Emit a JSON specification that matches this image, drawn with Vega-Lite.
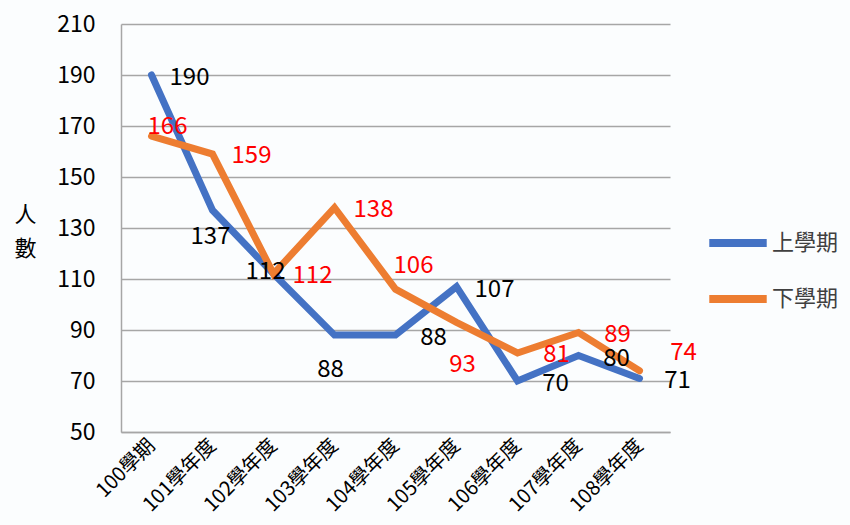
{
  "$schema": "https://vega.github.io/schema/vega-lite/v6.json",
  "width": 549,
  "height": 408,
  "autosize": "none",
  "padding": {"left": 121, "top": 24, "right": 180, "bottom": 93},
  "background": "#fbfdfe",
  "config": {
    "font": "Noto Sans CJK TC",
    "view": {"stroke": null}
  },
  "data": {
    "values": [
      {"term": "100學期", "sem": "上學期", "value": 190},
      {"term": "101學年度", "sem": "上學期", "value": 137},
      {"term": "102學年度", "sem": "上學期", "value": 112},
      {"term": "103學年度", "sem": "上學期", "value": 88},
      {"term": "104學年度", "sem": "上學期", "value": 88},
      {"term": "105學年度", "sem": "上學期", "value": 107},
      {"term": "106學年度", "sem": "上學期", "value": 70},
      {"term": "107學年度", "sem": "上學期", "value": 80},
      {"term": "108學年度", "sem": "上學期", "value": 71},
      {"term": "100學期", "sem": "下學期", "value": 166},
      {"term": "101學年度", "sem": "下學期", "value": 159},
      {"term": "102學年度", "sem": "下學期", "value": 112},
      {"term": "103學年度", "sem": "下學期", "value": 138},
      {"term": "104學年度", "sem": "下學期", "value": 106},
      {"term": "105學年度", "sem": "下學期", "value": 93},
      {"term": "106學年度", "sem": "下學期", "value": 81},
      {"term": "107學年度", "sem": "下學期", "value": 89},
      {"term": "108學年度", "sem": "下學期", "value": 74}
    ]
  },
  "encoding": {
    "x": {
      "field": "term",
      "type": "ordinal",
      "sort": null,
      "scale": {"type": "point", "padding": 0.5},
      "axis": {
        "title": null,
        "labelAngle": -45,
        "labelAlign": "right",
        "labelBaseline": "middle",
        "labelFontSize": 20,
        "labelColor": "#000000",
        "labelPadding": 10,
        "ticks": false,
        "domainColor": "#a6a6a6",
        "domainWidth": 1.5,
        "grid": false
      }
    },
    "y": {
      "field": "value",
      "type": "quantitative",
      "scale": {"domain": [50, 210], "nice": false, "zero": false},
      "axis": {
        "values": [50, 70, 90, 110, 130, 150, 170, 190, 210],
        "title": ["人", "數"],
        "titleAngle": 0,
        "titleFontSize": 22,
        "titleFontWeight": "normal",
        "titleColor": "#000000",
        "titleAlign": "center",
        "titleBaseline": "middle",
        "titleX": -96,
        "titleY": 190,
        "titleLineHeight": 34,
        "labelFontSize": 23,
        "labelColor": "#000000",
        "labelPadding": 26,
        "ticks": false,
        "domainColor": "#a6a6a6",
        "domainWidth": 1.5,
        "gridColor": "#a6a6a6",
        "gridWidth": 1.3
      }
    }
  },
  "layer": [
    {
      "mark": {"type": "line", "strokeWidth": 7, "strokeCap": "round", "strokeJoin": "miter"},
      "encoding": {
        "color": {
          "field": "sem",
          "type": "nominal",
          "scale": {"domain": ["上學期", "下學期"], "range": ["#4472C4", "#ED7D31"]},
          "legend": {
            "title": null,
            "orient": "none",
            "legendX": 584,
            "legendY": 186,
            "symbolType": "stroke",
            "symbolSize": 3300,
            "symbolStrokeWidth": 8,
            "labelFontSize": 22,
            "labelColor": "#404040",
            "labelOffset": 1,
            "rowPadding": 7,
            "labelFont": "Noto Sans CJK TC"
          }
        }
      }
    },
    {
      "transform": [{"filter": "datum.sem == '上學期' && indexof(['100學期','104學年度','105學年度','106學年度','107學年度','108學年度'], datum.term) >= 0"}],
      "mark": {"type": "text", "fontSize": 24, "fill": "#000000", "dx": 38, "dy": 3, "align": "center", "baseline": "middle"},
      "encoding": {"text": {"field": "value"}}
    },
    {
      "transform": [{"filter": "datum.sem == '上學期' && datum.term == '101學年度'"}],
      "mark": {"type": "text", "fontSize": 24, "fill": "#000000", "dx": -2, "dy": 27, "align": "center", "baseline": "middle"},
      "encoding": {"text": {"field": "value"}}
    },
    {
      "transform": [{"filter": "datum.sem == '上學期' && datum.term == '102學年度'"}],
      "mark": {"type": "text", "fontSize": 24, "fill": "#000000", "dx": -8, "dy": -2, "align": "center", "baseline": "middle"},
      "encoding": {"text": {"field": "value"}}
    },
    {
      "transform": [{"filter": "datum.sem == '上學期' && datum.term == '103學年度'"}],
      "mark": {"type": "text", "fontSize": 24, "fill": "#000000", "dx": -4, "dy": 35, "align": "center", "baseline": "middle"},
      "encoding": {"text": {"field": "value"}}
    },
    {
      "transform": [{"filter": "datum.sem == '下學期' && indexof(['101學年度','102學年度','103學年度','106學年度','107學年度'], datum.term) >= 0"}],
      "mark": {"type": "text", "fontSize": 24, "fill": "#FF0000", "dx": 39, "dy": 2, "align": "center", "baseline": "middle"},
      "encoding": {"text": {"field": "value"}}
    },
    {
      "transform": [{"filter": "datum.sem == '下學期' && datum.term == '100學期'"}],
      "mark": {"type": "text", "fontSize": 24, "fill": "#FF0000", "dx": 16, "dy": -9, "align": "center", "baseline": "middle"},
      "encoding": {"text": {"field": "value"}}
    },
    {
      "transform": [{"filter": "datum.sem == '下學期' && datum.term == '104學年度'"}],
      "mark": {"type": "text", "fontSize": 24, "fill": "#FF0000", "dx": 18, "dy": -23, "align": "center", "baseline": "middle"},
      "encoding": {"text": {"field": "value"}}
    },
    {
      "transform": [{"filter": "datum.sem == '下學期' && datum.term == '105學年度'"}],
      "mark": {"type": "text", "fontSize": 24, "fill": "#FF0000", "dx": 6, "dy": 43, "align": "center", "baseline": "middle"},
      "encoding": {"text": {"field": "value"}}
    },
    {
      "transform": [{"filter": "datum.sem == '下學期' && datum.term == '108學年度'"}],
      "mark": {"type": "text", "fontSize": 24, "fill": "#FF0000", "dx": 44, "dy": -18, "align": "center", "baseline": "middle"},
      "encoding": {"text": {"field": "value"}}
    }
  ]
}
